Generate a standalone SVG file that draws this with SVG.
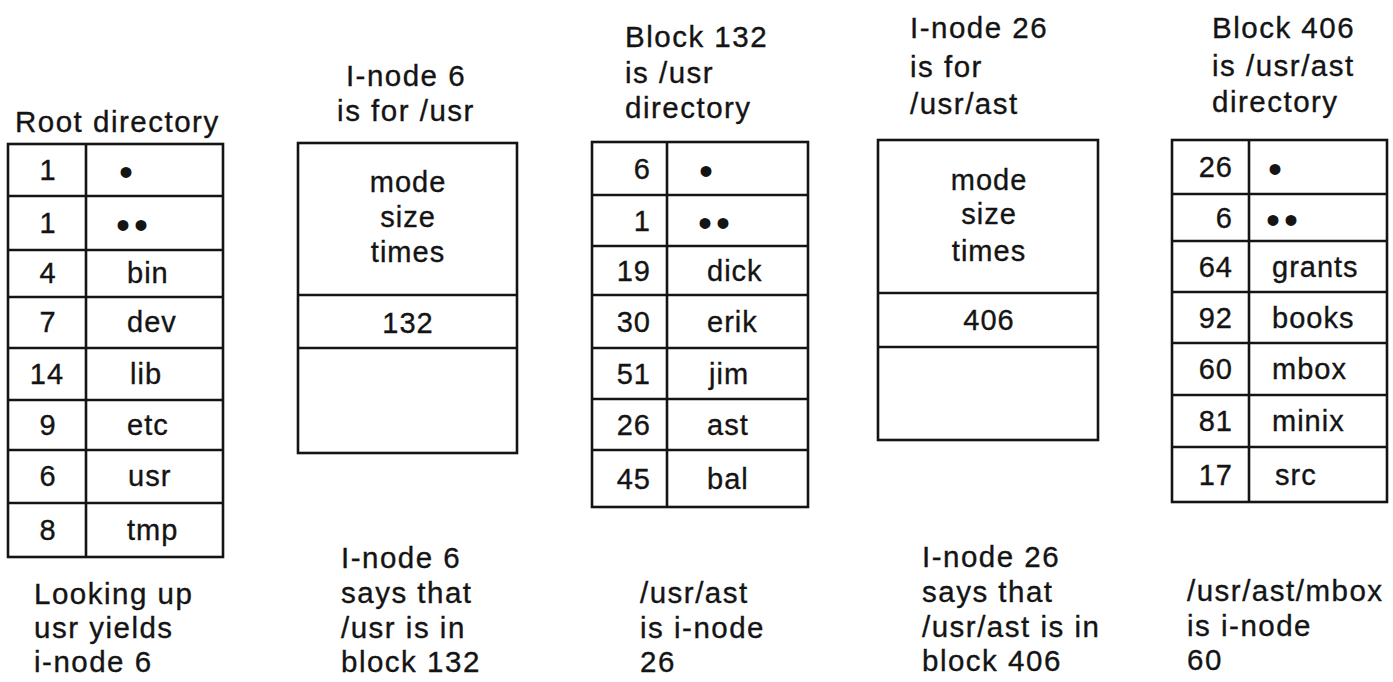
<svg xmlns="http://www.w3.org/2000/svg" width="1393" height="682" viewBox="0 0 1393 682">
<style>
  text { font-family: "Liberation Sans", Arial, sans-serif; fill: #141414; stroke: #141414; stroke-width: 0.35px; }
  .t { font-size: 29.5px; letter-spacing: 1.5px; }
  .c { font-size: 29px; letter-spacing: 1px; }
  .mid { text-anchor: middle; }
  .end { text-anchor: end; }
  .dot { font-size: 40px; letter-spacing: 4px; stroke: none; }
  .ln { fill: none; stroke: #141414; stroke-width: 2.6; }
</style>
<rect width="1393" height="682" fill="#ffffff"/>

<g id="root-directory">
  <text class="t" x="15" y="132">Root directory</text>
  <rect class="ln" x="8" y="144" width="215" height="413"/>
  <path class="ln" d="M86 144V557M8 196H223M8 250H223M8 297H223M8 348H223M8 400H223M8 450H223M8 503H223"/>
  <g class="c mid">
    <text x="48" y="180">1</text>
    <text x="48" y="233">1</text>
    <text x="48" y="283">4</text>
    <text x="48" y="332">7</text>
    <text x="47" y="384">14</text>
    <text x="48" y="435">9</text>
    <text x="48" y="486">6</text>
    <text x="48" y="540">8</text>
  </g>
  <text class="dot" x="119" y="186">•</text>
  <text class="dot" x="116" y="239">••</text>
  <g class="c">
    <text x="127" y="283">bin</text>
    <text x="127" y="332">dev</text>
    <text x="130" y="384">lib</text>
    <text x="127" y="435">etc</text>
    <text x="128" y="486">usr</text>
    <text x="127" y="540">tmp</text>
  </g>
  <g class="t">
    <text x="34" y="604">Looking up</text>
    <text x="34" y="638">usr yields</text>
    <text x="34" y="672">i-node 6</text>
  </g>
</g>

<g id="inode-6">
  <text class="t mid" x="406" y="86">I-node 6</text>
  <text class="t mid" x="406" y="121">is for /usr</text>
  <rect class="ln" x="298" y="143" width="219" height="310"/>
  <path class="ln" d="M298 295H517M298 348H517"/>
  <g class="c mid">
    <text x="408" y="192">mode</text>
    <text x="408" y="227">size</text>
    <text x="408" y="262">times</text>
    <text x="408" y="333">132</text>
  </g>
  <g class="t">
    <text x="341" y="568">I-node 6</text>
    <text x="341" y="603">says that</text>
    <text x="341" y="638">/usr is in</text>
    <text x="341" y="672">block 132</text>
  </g>
</g>

<g id="block-132">
  <text class="t" x="625" y="47">Block 132</text>
  <text class="t" x="625" y="83">is /usr</text>
  <text class="t" x="625" y="118">directory</text>
  <rect class="ln" x="592" y="142" width="216" height="365"/>
  <path class="ln" d="M667 142V507M592 195H808M592 246H808M592 295H808M592 348H808M592 399H808M592 450H808"/>
  <g class="c end">
    <text x="651" y="179">6</text>
    <text x="651" y="231">1</text>
    <text x="651" y="281">19</text>
    <text x="651" y="332">30</text>
    <text x="651" y="384">51</text>
    <text x="651" y="435">26</text>
    <text x="651" y="489">45</text>
  </g>
  <text class="dot" x="699" y="185">•</text>
  <text class="dot" x="698" y="237">••</text>
  <g class="c">
    <text x="707" y="281">dick</text>
    <text x="707" y="332">erik</text>
    <text x="709" y="384">jim</text>
    <text x="707" y="435">ast</text>
    <text x="707" y="489">bal</text>
  </g>
  <g class="t">
    <text x="640" y="603">/usr/ast</text>
    <text x="640" y="638">is i-node</text>
    <text x="640" y="672">26</text>
  </g>
</g>

<g id="inode-26">
  <text class="t" x="910" y="38">I-node 26</text>
  <text class="t" x="910" y="77">is for</text>
  <text class="t" x="910" y="114">/usr/ast</text>
  <rect class="ln" x="878" y="140" width="220" height="300"/>
  <path class="ln" d="M878 293H1098M878 347H1098"/>
  <g class="c mid">
    <text x="989" y="190">mode</text>
    <text x="989" y="224">size</text>
    <text x="989" y="261">times</text>
    <text x="989" y="330">406</text>
  </g>
  <g class="t">
    <text x="922" y="567">I-node 26</text>
    <text x="922" y="602">says that</text>
    <text x="922" y="637">/usr/ast is in</text>
    <text x="922" y="671">block 406</text>
  </g>
</g>

<g id="block-406">
  <text class="t" x="1212" y="38">Block 406</text>
  <text class="t" x="1212" y="76">is /usr/ast</text>
  <text class="t" x="1212" y="112">directory</text>
  <rect class="ln" x="1172" y="140" width="215" height="362"/>
  <path class="ln" d="M1249 140V502M1172 194H1387M1172 241H1387M1172 292H1387M1172 343H1387M1172 395H1387M1172 447H1387"/>
  <g class="c end">
    <text x="1233" y="177">26</text>
    <text x="1233" y="228">6</text>
    <text x="1233" y="277">64</text>
    <text x="1233" y="328">92</text>
    <text x="1233" y="379">60</text>
    <text x="1233" y="431">81</text>
    <text x="1233" y="485">17</text>
  </g>
  <text class="dot" x="1268" y="183">•</text>
  <text class="dot" x="1266" y="234">••</text>
  <g class="c">
    <text x="1272" y="277">grants</text>
    <text x="1272" y="328">books</text>
    <text x="1272" y="379">mbox</text>
    <text x="1272" y="431">minix</text>
    <text x="1275" y="485">src</text>
  </g>
  <g class="t">
    <text x="1187" y="601">/usr/ast/mbox</text>
    <text x="1187" y="636">is i-node</text>
    <text x="1187" y="670">60</text>
  </g>
</g>

<g id="connectors"/>
</svg>
